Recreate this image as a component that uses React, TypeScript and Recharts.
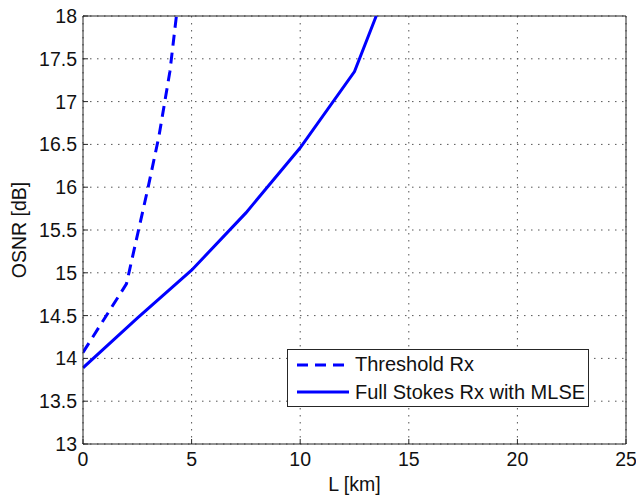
import React from 'react';
import {
  CartesianGrid,
  Legend,
  Line,
  LineChart,
  ReferenceLine,
  XAxis,
  YAxis,
} from 'recharts';

// values
const thresholdL = [0, 2, 3, 3.5, 4, 4.3];
const thresholdOsnr = [14.07, 14.87, 16.0, 16.6, 17.35, 18.0];
const stokesL = [0, 2.5, 5, 7.5, 10, 12.5, 13.5];
const stokesOsnr = [13.89, 14.47, 15.03, 15.7, 16.46, 17.35, 18.0];

const xTicks = [0, 5, 10, 15, 20, 25];
const yTicks = [13, 13.5, 14, 14.5, 15, 15.5, 16, 16.5, 17, 17.5, 18];

const seriesNames = ['Threshold Rx', 'Full Stokes Rx with MLSE'];
const seriesDash: Record<string, string | undefined> = {
  'Threshold Rx': '11 7',
  'Full Stokes Rx with MLSE': undefined,
};

const thresholdData = thresholdL.map((L, i) => ({ L, osnr: thresholdOsnr[i] }));
const stokesData = stokesL.map((L, i) => ({ L, osnr: stokesOsnr[i] }));

const FONT = '"Liberation Sans", Arial, sans-serif';
const FS = 19.5;
const AXIS = '#262626';
const BLUE = '#0000ff';

const renderLegend = (props: any) => {
  const items = [...(props.payload || [])].sort(
    (a: any, b: any) => seriesNames.indexOf(a.value) - seriesNames.indexOf(b.value)
  );
  return (
    <div
      style={{
        boxSizing: 'border-box',
        width: 302,
        height: 58,
        border: `1px solid ${AXIS}`,
        background: '#fff',
        fontFamily: FONT,
        fontSize: 20,
        color: '#111',
        paddingTop: 1,
      }}
    >
      {items.map((entry: any) => (
        <div
          key={entry.value}
          style={{ display: 'flex', alignItems: 'center', height: 27.5, whiteSpace: 'nowrap' }}
        >
          <svg width={52} height={6} style={{ marginLeft: 9, marginRight: 6 }}>
            <line
              x1={0}
              y1={3}
              x2={52}
              y2={3}
              stroke={entry.color}
              strokeWidth={3}
              strokeDasharray={seriesDash[entry.value]}
            />
          </svg>
          <span>{entry.value}</span>
        </div>
      ))}
    </div>
  );
};

const App = () => {
  return (
    <div style={{ position: 'absolute', left: 0, top: 0, background: '#fff' }}>
      <LineChart
        width={636}
        height={495}
        margin={{ top: 16, right: 10, bottom: 0, left: 0 }}
      >
        <CartesianGrid
          stroke="#555"
          strokeDasharray="1.5 5.5"
          strokeWidth={1}
        />
        <XAxis
          type="number"
          dataKey="L"
          domain={[0, 25]}
          ticks={xTicks}
          allowDataOverflow={true}
          height={51}
          stroke={AXIS}
          tickSize={-5}
          tickMargin={13}
          tick={{ fill: '#111', fontSize: FS, fontFamily: FONT }}
          label={{
            value: 'L [km]',
            position: 'insideBottom',
            offset: 4,
            fill: '#111',
            fontSize: FS,
            fontFamily: FONT,
          }}
        />
        <YAxis
          type="number"
          domain={[13, 18]}
          ticks={yTicks}
          allowDataOverflow={true}
          width={83}
          stroke={AXIS}
          tickSize={-5}
          tickMargin={11}
          tick={{ fill: '#111', fontSize: FS, fontFamily: FONT }}
          label={{
            value: 'OSNR [dB]',
            angle: -90,
            position: 'insideLeft',
            offset: 19,
            fill: '#111',
            fontSize: FS,
            fontFamily: FONT,
            style: { textAnchor: 'middle' },
          }}
        />
        <ReferenceLine y={18} stroke={AXIS} strokeWidth={1} />
        <ReferenceLine x={25} stroke={AXIS} strokeWidth={1} />
        <Legend
          layout="vertical"
          align="center"
          verticalAlign="middle"
          content={renderLegend}
          wrapperStyle={{ left: 287, top: 349, width: 302, height: 58 }}
        />
        <Line
          data={thresholdData}
          dataKey="osnr"
          name="Threshold Rx"
          type="linear"
          stroke={BLUE}
          strokeWidth={3}
          strokeDasharray="11 7"
          dot={false}
          activeDot={false}
          isAnimationActive={false}
        />
        <Line
          data={stokesData}
          dataKey="osnr"
          name="Full Stokes Rx with MLSE"
          type="linear"
          stroke={BLUE}
          strokeWidth={3}
          dot={false}
          activeDot={false}
          isAnimationActive={false}
        />
      </LineChart>
    </div>
  );
};

export default App;
